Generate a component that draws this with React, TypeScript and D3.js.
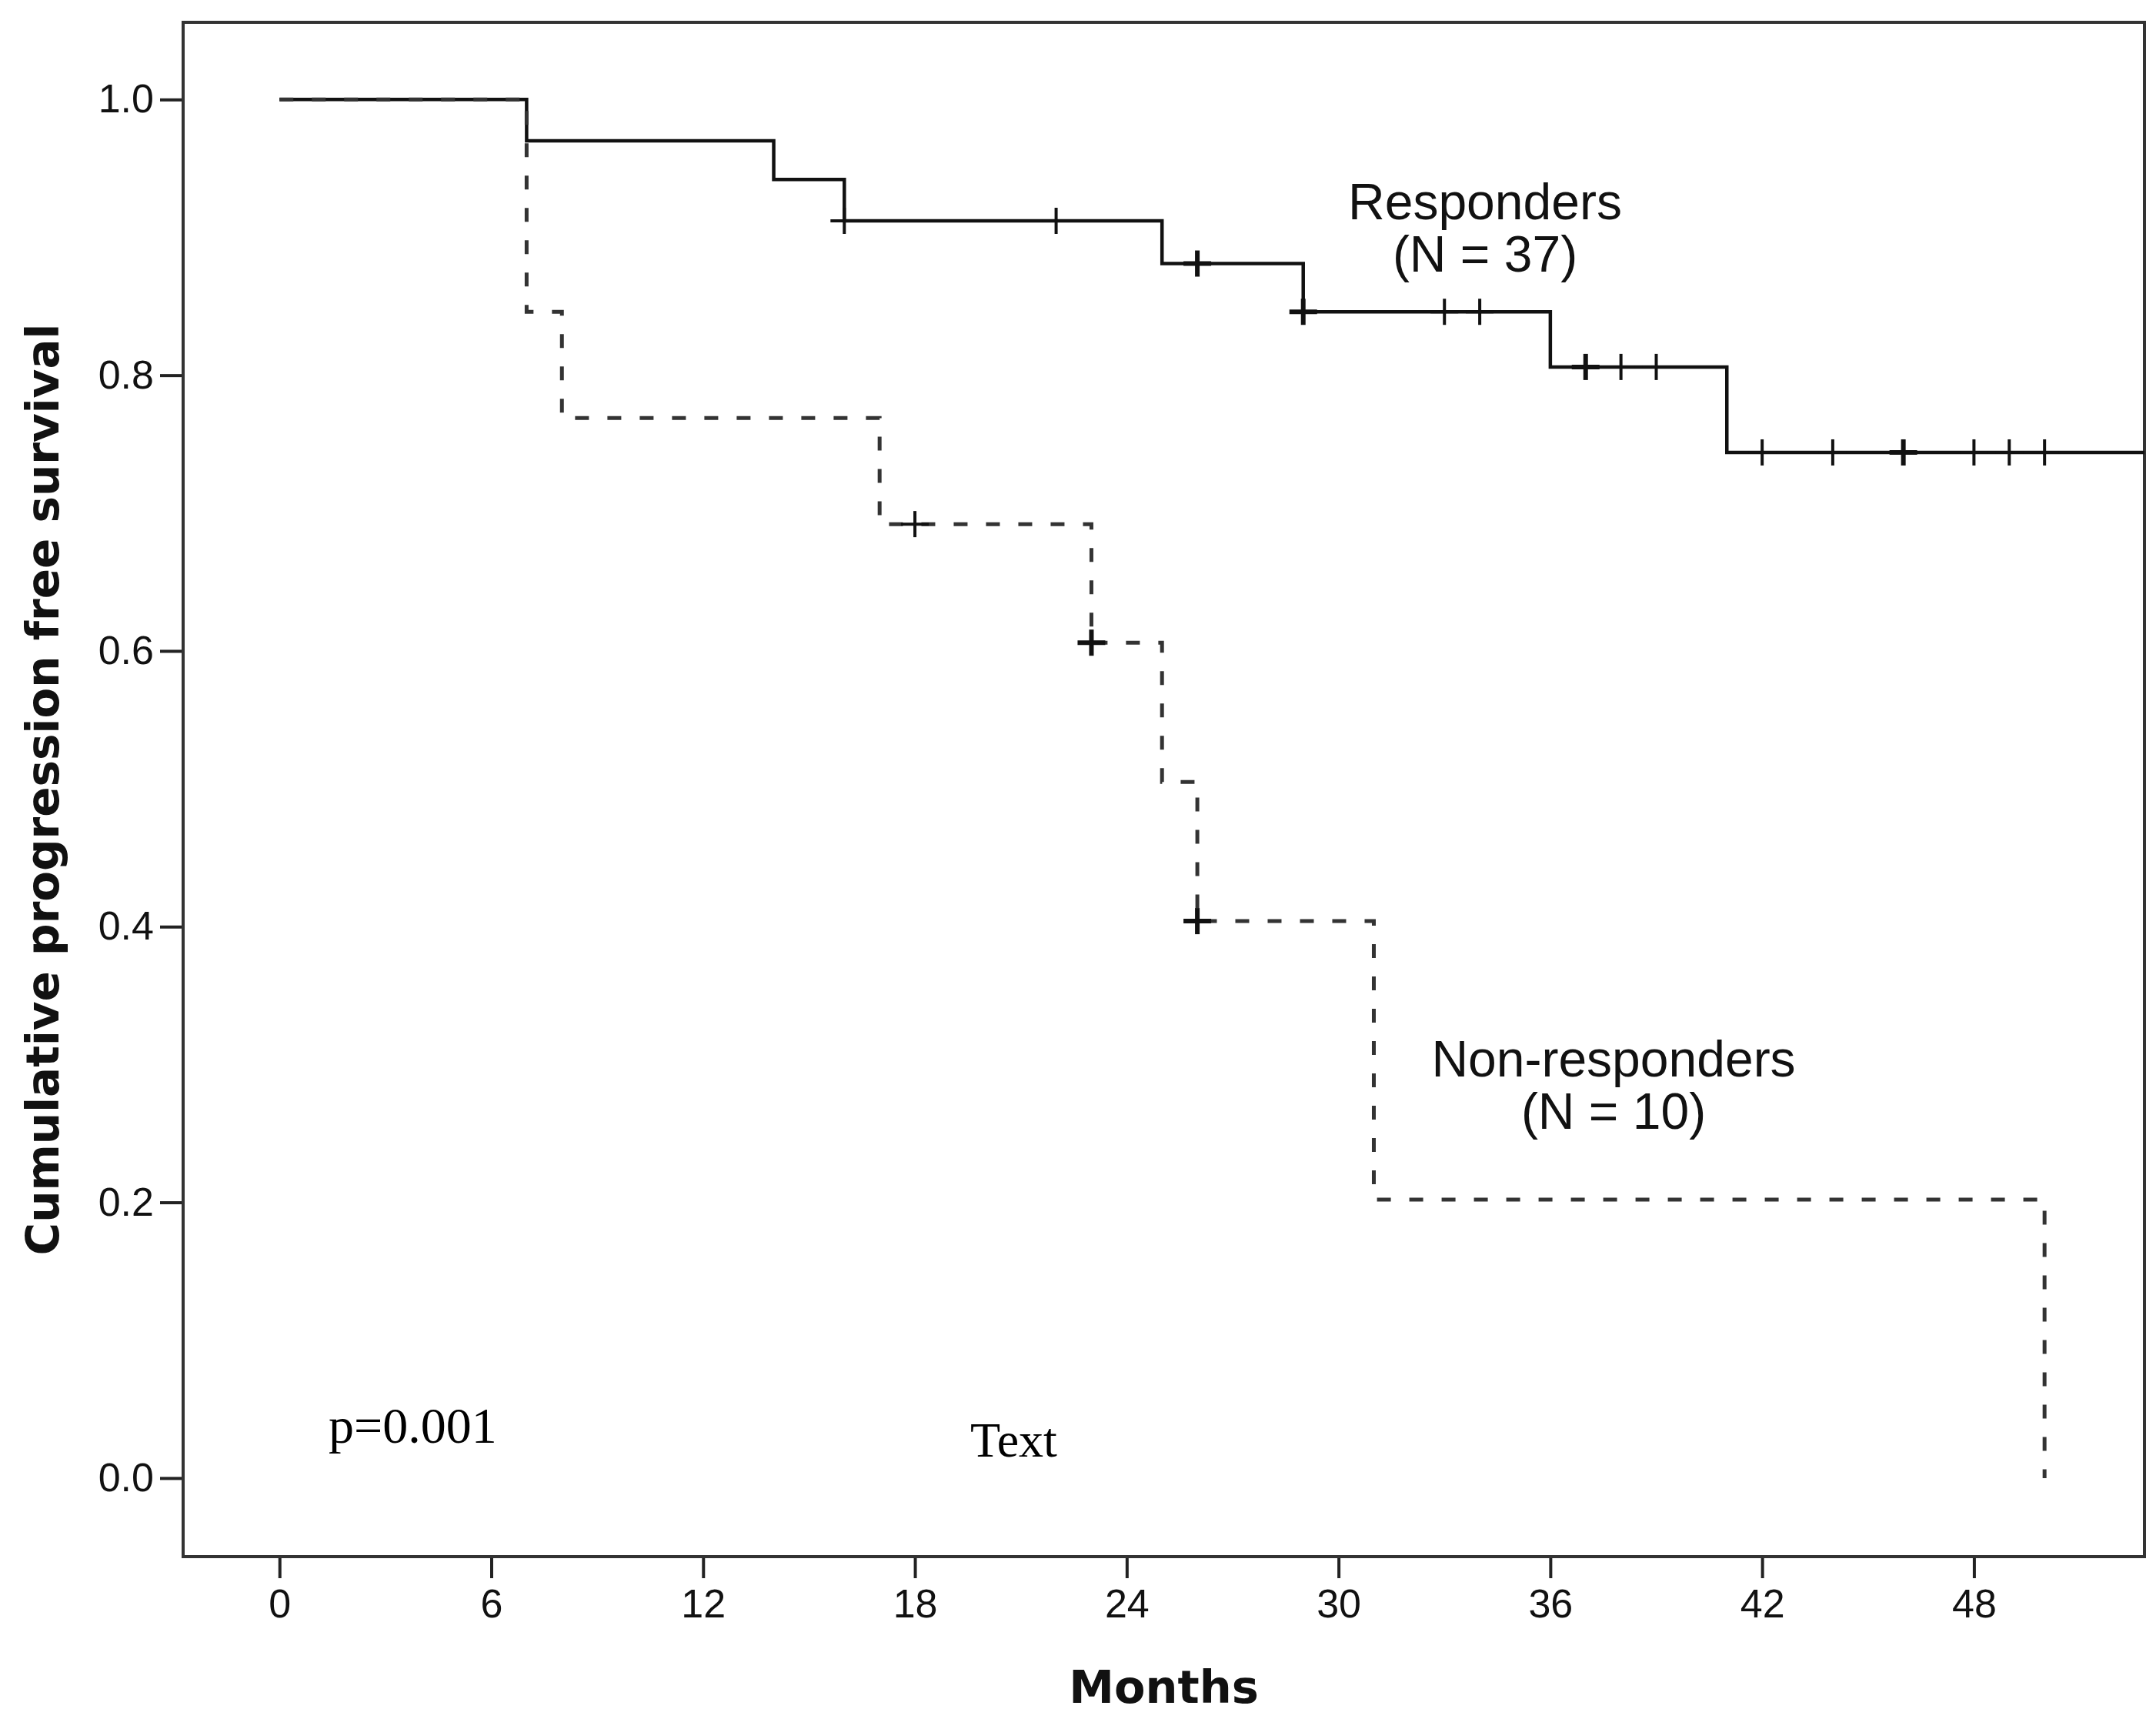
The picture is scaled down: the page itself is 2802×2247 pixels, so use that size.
import * as d3 from "d3";
import { useEffect, useRef } from "react";

// Responders (solid): step times and survival after each step
const respTimes = [0, 7, 14, 16, 25, 29, 36, 41];
const respSurv = [1.0, 0.97, 0.942, 0.912, 0.881, 0.846, 0.806, 0.744];
const respCensorTimes = [16, 22, 26, 29, 33, 34, 37, 38, 39, 42, 44, 46, 48, 49, 50];
const respCensorCounts = [1, 1, 2, 2, 1, 1, 2, 1, 1, 1, 1, 2, 1, 1, 1];

// Non-responders (dashed)
const nonTimes = [0, 7, 8, 17, 23, 25, 26, 31, 50];
const nonSurv = [1.0, 0.846, 0.769, 0.692, 0.606, 0.505, 0.404, 0.202, 0.0];
const nonCensorTimes = [18, 23, 26];
const nonCensorCounts = [1, 2, 2];

const xTicks = [0, 6, 12, 18, 24, 30, 36, 42, 48];
const yTicks = [0, 0.2, 0.4, 0.6, 0.8, 1.0];

const W = 2802;
const H = 2247;

export default function App() {
  const svgRef = useRef<SVGSVGElement>(null);

  useEffect(() => {
    if (!svgRef.current) return;
    const svg = d3.select(svgRef.current);
    svg.selectAll("*").remove();

    const left = 238,
      right = 2787,
      top = 29,
      bottom = 2023;

    const x = d3.scaleLinear().domain([-2.73, 52.83]).range([left, right]);
    const y = d3.scaleLinear().domain([-0.057, 1.056]).range([bottom, top]);

    svg.append("rect").attr("width", W).attr("height", H).attr("fill", "#fff");

    const sans = "'Liberation Sans', Arial, sans-serif";

    // Y axis
    const yAxis = svg
      .append("g")
      .attr("transform", `translate(${left},0)`)
      .call(
        d3
          .axisLeft(y)
          .tickValues(yTicks)
          .tickFormat(d3.format(".1f"))
          .tickSize(30)
          .tickPadding(8),
      );
    yAxis.select(".domain").remove();
    yAxis.selectAll("line").attr("stroke", "#222").attr("stroke-width", 4);
    yAxis
      .selectAll("text")
      .attr("fill", "#111")
      .style("font-family", sans)
      .style("font-size", "52px");

    // X axis
    const xAxis = svg
      .append("g")
      .attr("transform", `translate(0,${bottom})`)
      .call(d3.axisBottom(x).tickValues(xTicks).tickSize(28).tickPadding(14));
    xAxis.select(".domain").remove();
    xAxis.selectAll("line").attr("stroke", "#222").attr("stroke-width", 4);
    xAxis
      .selectAll("text")
      .attr("fill", "#111")
      .style("font-family", sans)
      .style("font-size", "52px");

    // Frame
    svg
      .append("rect")
      .attr("x", left)
      .attr("y", top)
      .attr("width", right - left)
      .attr("height", bottom - top)
      .attr("fill", "none")
      .attr("stroke", "#333")
      .attr("stroke-width", 4);

    const step = d3
      .line<[number, number]>()
      .x((d) => x(d[0]))
      .y((d) => y(d[1]))
      .curve(d3.curveStepAfter);

    const respPts: [number, number][] = respTimes.map((t, i) => [t, respSurv[i]]);
    respPts.push([x.domain()[1], respSurv[respSurv.length - 1]]);
    const nonPts: [number, number][] = nonTimes.map((t, i) => [t, nonSurv[i]]);

    // value of the step function at time t
    const survAt = (times: number[], surv: number[], t: number) => {
      let v = surv[0];
      times.forEach((tt, i) => {
        if (tt <= t) v = surv[i];
      });
      return v;
    };

    svg
      .append("path")
      .attr("d", step(respPts))
      .attr("fill", "none")
      .attr("stroke", "#111")
      .attr("stroke-width", 4.5);

    svg
      .append("path")
      .attr("d", step(nonPts))
      .attr("fill", "none")
      .attr("stroke", "#333")
      .attr("stroke-width", 5)
      .attr("stroke-dasharray", "18,24");

    const drawCensors = (
      times: number[],
      counts: number[],
      stimes: number[],
      surv: number[],
    ) => {
      const g = svg.append("g");
      times.forEach((t, i) => {
        const cx = x(t);
        const cy = y(survAt(stimes, surv, t));
        const sw = counts[i] > 1 ? 6 : 4;
        g.append("line")
          .attr("x1", cx)
          .attr("x2", cx)
          .attr("y1", cy - 17)
          .attr("y2", cy + 17)
          .attr("stroke", "#111")
          .attr("stroke-width", sw);
        g.append("line")
          .attr("x1", cx - 18)
          .attr("x2", cx + 18)
          .attr("y1", cy)
          .attr("y2", cy)
          .attr("stroke", "#111")
          .attr("stroke-width", sw);
      });
    };
    drawCensors(respCensorTimes, respCensorCounts, respTimes, respSurv);
    drawCensors(nonCensorTimes, nonCensorCounts, nonTimes, nonSurv);

    // Group labels
    const label = (lines: string[], cx: number, by: number) => {
      lines.forEach((s, i) => {
        svg
          .append("text")
          .attr("x", cx)
          .attr("y", by + i * 68)
          .attr("text-anchor", "middle")
          .attr("fill", "#111")
          .style("font-family", sans)
          .style("font-size", "66px")
          .text(s);
      });
    };
    label(["Responders", "(N = 37)"], 1930, 285);
    label(["Non-responders", "(N = 10)"], 2097, 1399);

    // Free text annotations
    const serif = "'Liberation Serif', 'Times New Roman', serif";
    svg
      .append("text")
      .attr("x", 427)
      .attr("y", 1875)
      .attr("fill", "#000")
      .style("font-family", serif)
      .style("font-size", "66px")
      .text("p=0.001");
    svg
      .append("text")
      .attr("x", 1261)
      .attr("y", 1893)
      .attr("fill", "#000")
      .style("font-family", serif)
      .style("font-size", "64px")
      .text("Text");

    // Axis titles
    const bold = "'DejaVu Sans', Verdana, sans-serif";
    svg
      .append("text")
      .attr("x", (left + right) / 2)
      .attr("y", 2213)
      .attr("text-anchor", "middle")
      .attr("fill", "#111")
      .style("font-family", bold)
      .style("font-weight", "bold")
      .style("font-size", "59px")
      .text("Months");
    svg
      .append("text")
      .attr("transform", `translate(76,${(top + bottom) / 2}) rotate(-90)`)
      .attr("text-anchor", "middle")
      .attr("fill", "#111")
      .style("font-family", bold)
      .style("font-weight", "bold")
      .style("font-size", "58px")
      .text("Cumulative progression free survival");
  }, []);

  return (
    <svg
      ref={svgRef}
      width={W}
      height={H}
      style={{ position: "absolute", left: 0, top: 0, display: "block" }}
    />
  );
}
